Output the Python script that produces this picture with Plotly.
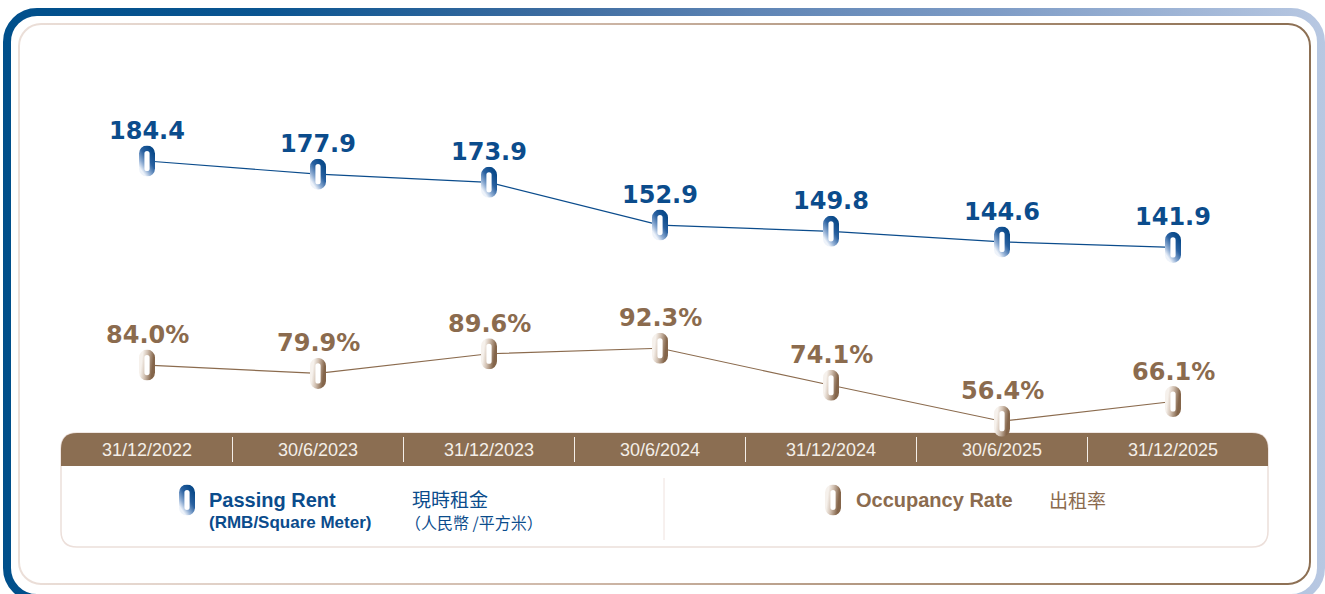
import base64

import plotly.graph_objects as go

# ── Data ──────────────────────────────────────────────────────────────────
DATES = ["31/12/2022", "30/6/2023", "31/12/2023", "30/6/2024",
         "31/12/2024", "30/6/2025", "31/12/2025"]
PASSING_RENT = [184.4, 177.9, 173.9, 152.9, 149.8, 144.6, 141.9]   # RMB / sq m
OCCUPANCY = [84.0, 79.9, 89.6, 92.3, 74.1, 56.4, 66.1]              # %

# ── Look ──────────────────────────────────────────────────────────────────
W, H = 1325, 594
PX_PER_CAT = 171          # horizontal distance between two periods
PX_PER_UNIT = 2.033       # vertical pixels per value unit (shared by both series)
BLUE = "#0B4C8C"
BROWN = "#8B6B4E"
BAND = "#8B6E52"
BOX_LINE = "#ECDFDA"
NUM_FONT = "DejaVu Sans, Verdana, sans-serif"
TXT_FONT = "Liberation Sans, Arial, Helvetica, sans-serif"
CJK_FONT = "Noto Sans CJK TC, Noto Sans CJK SC, sans-serif"

PILL_W, PILL_H = 16, 31


def px(x):
    return x / W


def py(y):
    return 1 - y / H


def svg_uri(svg: str) -> str:
    return "data:image/svg+xml;base64," + base64.b64encode(svg.encode()).decode()


def pill_svg(stops, x1, y1, x2, y2) -> str:
    sw = 5.4
    stop_xml = "".join(f'<stop offset="{o}" stop-color="{c}"/>' for o, c in stops)
    return svg_uri(
        f'<svg xmlns="http://www.w3.org/2000/svg" width="{PILL_W}" height="{PILL_H}" '
        f'viewBox="0 0 {PILL_W} {PILL_H}" preserveAspectRatio="none">'
        f'<defs><linearGradient id="g" x1="{x1}" y1="{y1}" x2="{x2}" y2="{y2}">{stop_xml}'
        f'</linearGradient></defs>'
        f'<rect x="{sw / 2}" y="{sw / 2}" width="{PILL_W - sw}" height="{PILL_H - sw}" '
        f'rx="{(PILL_W - sw) / 2}" ry="{(PILL_W - sw) / 2}" '
        f'fill="white" stroke="url(#g)" stroke-width="{sw}"/></svg>'
    )


BLUE_PILL = pill_svg([(0, "#0A4A8A"), (0.4, "#2A61A0"), (0.75, "#8FADD3"), (1, "#EEF3FA")],
                     0.8, 0, 0.2, 1)
BROWN_PILL = pill_svg([(0, "#F6F1EC"), (0.4, "#D2C1B2"), (1, "#84654A")], 0, 0.35, 1, 0.65)

FRAME = svg_uri(
    f'<svg xmlns="http://www.w3.org/2000/svg" width="{W}" height="{H}" viewBox="0 0 {W} {H}">'
    '<defs>'
    '<linearGradient id="o" gradientUnits="userSpaceOnUse" x1="0" y1="0" x2="1325" y2="0">'
    '<stop offset="0" stop-color="#004F8B"/><stop offset="0.2" stop-color="#0A5591"/>'
    '<stop offset="0.42" stop-color="#3D6CA0"/><stop offset="0.57" stop-color="#5F85B5"/>'
    '<stop offset="0.75" stop-color="#7E9CC6"/><stop offset="1" stop-color="#B8C8E2"/>'
    '</linearGradient>'
    '<linearGradient id="i" gradientUnits="userSpaceOnUse" x1="0" y1="0" x2="1325" y2="0">'
    '<stop offset="0" stop-color="#ECE0DA"/><stop offset="0.45" stop-color="#CDB6A6"/>'
    '<stop offset="0.75" stop-color="#A68A70"/><stop offset="1" stop-color="#8B6E52"/>'
    '</linearGradient></defs>'
    '<rect x="7" y="12" width="1314" height="586" rx="30" ry="30" fill="none" '
    'stroke="url(#o)" stroke-width="8"/>'
    '<rect x="19" y="24" width="1291" height="560" rx="22" ry="22" fill="none" '
    'stroke="url(#i)" stroke-width="2"/></svg>'
)


def rounded_path(x0, y0, x1, y1, r, bottom=True):
    p = [f"M{px(x0)},{py(y0 + r)}",
         f"Q{px(x0)},{py(y0)} {px(x0 + r)},{py(y0)}",
         f"L{px(x1 - r)},{py(y0)}",
         f"Q{px(x1)},{py(y0)} {px(x1)},{py(y0 + r)}"]
    if bottom:
        p += [f"L{px(x1)},{py(y1 - r)}",
              f"Q{px(x1)},{py(y1)} {px(x1 - r)},{py(y1)}",
              f"L{px(x0 + r)},{py(y1)}",
              f"Q{px(x0)},{py(y1)} {px(x0)},{py(y1 - r)}"]
    else:
        p += [f"L{px(x1)},{py(y1)}", f"L{px(x0)},{py(y1)}"]
    return " ".join(p) + " Z"


# ── Figure ────────────────────────────────────────────────────────────────
fig = go.Figure()

images = [dict(source=FRAME, xref="paper", yref="paper", x=0, y=1, sizex=1, sizey=1,
               xanchor="left", yanchor="top", sizing="stretch", layer="below")]
annotations = []

series = [(PASSING_RENT, BLUE, BLUE_PILL, "{:.1f}"),
          (OCCUPANCY, BROWN, BROWN_PILL, "{:.1f}%")]
for values, col, pill, fmt in series:
    fig.add_trace(go.Scatter(
        x=DATES, y=values,
        mode="lines+markers",
        line=dict(color=col, width=1.2),
        marker=dict(symbol="square", size=9, color="white", line=dict(width=0)),
        cliponaxis=False,
        hoverinfo="skip",
        showlegend=False,
    ))
    for i, v in enumerate(values):
        # pill-shaped point marker, placed on the data scales
        images.append(dict(
            source=pill, xref="x", yref="y", x=i, y=v,
            sizex=PILL_W / PX_PER_CAT, sizey=PILL_H / PX_PER_UNIT,
            xanchor="center", yanchor="middle", sizing="stretch", layer="above",
        ))
        annotations.append(dict(
            x=DATES[i], y=v, xref="x", yref="y", text=fmt.format(v),
            showarrow=False, yshift=30,
            font=dict(family=NUM_FONT, size=24, color=col, weight="bold"),
        ))

for d in DATES:
    annotations.append(dict(
        x=d, y=py(450), xref="x", yref="paper", text=d, showarrow=False, yanchor="middle",
        font=dict(family=TXT_FONT, size=18, color="#F4EEE8"),
    ))


def note(x, y, text, size, color, family=TXT_FONT, weight="normal"):
    annotations.append(dict(
        x=px(x), y=py(y), xref="paper", yref="paper", text=text, showarrow=False,
        xanchor="left", yanchor="middle",
        font=dict(family=family, size=size, color=color, weight=weight),
    ))


# legend block
for src, cx in [(BLUE_PILL, 187), (BROWN_PILL, 833)]:
    images.append(dict(source=src, xref="paper", yref="paper", x=px(cx), y=py(500),
                       sizex=PILL_W / W, sizey=PILL_H / H, xanchor="center",
                       yanchor="middle", sizing="stretch", layer="above"))
note(207, 500, "Passing Rent", 20, BLUE, weight="bold")
note(207, 522, "(RMB/Square Meter)", 17, BLUE, weight="bold")
note(410, 498, "現時租金", 19, BLUE, CJK_FONT)
note(403, 522, "（人民幣 /平方米）", 16, BLUE, CJK_FONT)
note(854, 500, "Occupancy Rate", 20, BROWN, weight="bold")
note(1047, 499, "出租率", 19, BROWN, CJK_FONT)

shapes = [
    dict(type="path", xref="paper", yref="paper", layer="below",
         path=rounded_path(61, 433, 1268, 547, 16),
         fillcolor="white", line=dict(color=BOX_LINE, width=1.5)),
    dict(type="path", xref="paper", yref="paper", layer="below",
         path=rounded_path(61, 433, 1268, 466, 16, bottom=False),
         fillcolor=BAND, line=dict(width=0)),
    dict(type="line", xref="paper", yref="paper", layer="below",
         x0=px(664), x1=px(664), y0=py(478), y1=py(540),
         line=dict(color="#EFE2DE", width=1)),
]
for i in range(len(DATES) - 1):
    shapes.append(dict(type="line", xref="x", yref="paper", layer="below",
                       x0=i + 0.5, x1=i + 0.5, y0=py(437), y1=py(462),
                       line=dict(color="#F4EEE8", width=1)))

# x: period i sits at 147 + 171*i px; y: one shared scale for both series
fig.update_layout(
    width=W, height=H,
    margin=dict(l=0, r=0, t=0, b=0),
    paper_bgcolor="white", plot_bgcolor="rgba(0,0,0,0)",
    xaxis=dict(type="category", categoryarray=DATES,
               range=[-147 / PX_PER_CAT, (W - 147) / PX_PER_CAT],
               visible=False, fixedrange=True),
    yaxis=dict(range=[184.4 - (H - 161) / PX_PER_UNIT, 184.4 + 161 / PX_PER_UNIT],
               visible=False, fixedrange=True),
    images=images,
    shapes=shapes,
    annotations=annotations,
    showlegend=False,
)

fig.write_html(
    "out.html",
    config={"displayModeBar": False},
    post_script="document.body.style.margin='0';document.body.style.overflow='hidden';",
)
